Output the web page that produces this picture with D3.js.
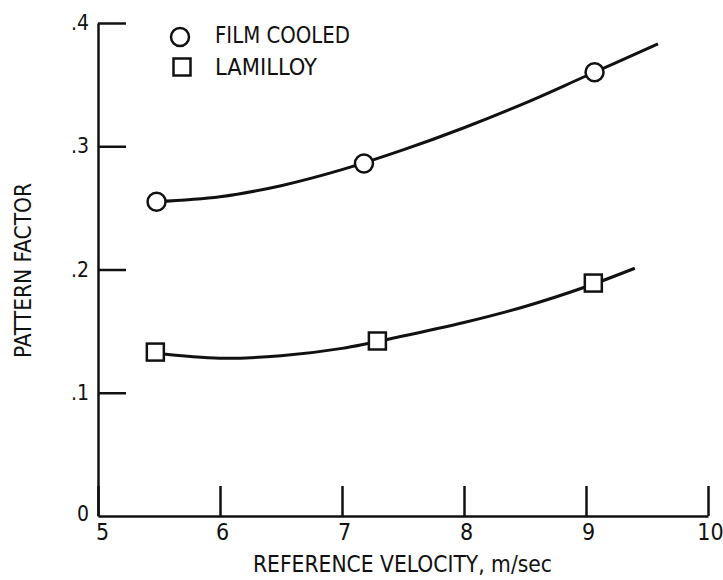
<!DOCTYPE html>
<html>
<head>
<meta charset="utf-8">
<script src="https://cdn.jsdelivr.net/npm/d3@7"></script>
<style>
  html, body { margin: 0; padding: 0; background: #fff; }
  svg { display: block; }
  text { font-family: "DejaVu Sans Condensed", "DejaVu Sans", sans-serif; fill: #111; }
</style>
</head>
<body>
<svg id="chart" width="723" height="580"></svg>
<script>
// ---- data ----
const xTicks = [5, 6, 7, 8, 9, 10];
const yTicks = [0, 0.1, 0.2, 0.3, 0.4];
const yTickLabels = ["0", ".1", ".2", ".3", ".4"];

const filmX = [5.48, 7.18, 9.07];
const filmY = [0.255, 0.286, 0.360];
const lamX = [5.47, 7.29, 9.06];
const lamY = [0.133, 0.142, 0.189];

// faired curves
const filmCurveX = [5.48, 6.0, 6.5, 7.0, 7.5, 8.0, 8.5, 9.0, 9.59];
const filmCurveY = [0.255, 0.259, 0.268, 0.281, 0.297, 0.315, 0.335, 0.357, 0.383];
const lamCurveX = [5.47, 6.0, 6.5, 7.0, 7.5, 8.0, 8.5, 9.0, 9.40];
const lamCurveY = [0.132, 0.128, 0.130, 0.136, 0.146, 0.157, 0.170, 0.186, 0.201];

const legendLabels = ["FILM COOLED", "LAMILLOY"];
const xTitle = "REFERENCE VELOCITY, m/sec";
const yTitle = "PATTERN FACTOR";

// ---- drawing ----
const svg = d3.select("#chart");
const ink = "#111";

const x = d3.scaleLinear().domain([5, 10]).range([98, 708]);
const y = d3.scaleLinear().domain([0, 0.4]).range([516, 23]);

// x axis
const xAxis = d3.axisBottom(x).tickValues(xTicks).tickSizeInner(-30).tickSizeOuter(0).tickPadding(8)
  .tickFormat(d3.format("d"));
const gx = svg.append("g").attr("transform", `translate(0,${y(0)})`).call(xAxis);
gx.select(".domain").attr("stroke", ink).attr("stroke-width", 2.5);
gx.selectAll(".tick line").attr("stroke", ink).attr("stroke-width", 2.5);
gx.selectAll(".tick text").attr("font-size", 23).attr("fill", ink)
  .attr("font-family", "DejaVu Sans Condensed, DejaVu Sans, sans-serif")
  .attr("dx", (d) => d === 5 ? 4 : 2);

// y axis
const yAxis = d3.axisLeft(y).tickValues(yTicks).tickSizeInner(-28).tickSizeOuter(0).tickPadding(9)
  .tickFormat((d, i) => yTickLabels[i]);
const gy = svg.append("g").attr("transform", `translate(${x(5)},0)`).call(yAxis);
gy.select(".domain").attr("stroke", ink).attr("stroke-width", 2.5);
gy.selectAll(".tick line").attr("stroke", ink).attr("stroke-width", 2.5)
  .attr("display", (d) => d === 0 ? "none" : null);
gy.selectAll(".tick text").attr("font-size", 21).attr("fill", ink)
  .attr("font-family", "DejaVu Sans Condensed, DejaVu Sans, sans-serif")
  .attr("dy", (d) => d === 0 ? "0.2em" : "0.32em");

// curves
const line = d3.line().x(d => x(d[0])).y(d => y(d[1])).curve(d3.curveCatmullRom.alpha(0.5));
const filmCurve = filmCurveX.map((v, i) => [v, filmCurveY[i]]);
const lamCurve = lamCurveX.map((v, i) => [v, lamCurveY[i]]);
svg.append("path").datum(filmCurve).attr("d", line)
  .attr("fill", "none").attr("stroke", ink).attr("stroke-width", 3);
svg.append("path").datum(lamCurve).attr("d", line)
  .attr("fill", "none").attr("stroke", ink).attr("stroke-width", 3);

// markers
const r = 9, s = 17;
svg.selectAll("circle.film").data(filmX.map((v, i) => [v, filmY[i]])).enter()
  .append("circle").attr("class", "film")
  .attr("cx", d => x(d[0])).attr("cy", d => y(d[1])).attr("r", r)
  .attr("fill", "#fff").attr("stroke", ink).attr("stroke-width", 2.5);
svg.selectAll("rect.lam").data(lamX.map((v, i) => [v, lamY[i]])).enter()
  .append("rect").attr("class", "lam")
  .attr("x", d => x(d[0]) - s / 2).attr("y", d => y(d[1]) - s / 2)
  .attr("width", s).attr("height", s)
  .attr("fill", "#fff").attr("stroke", ink).attr("stroke-width", 2.5);

// legend
const leg = svg.append("g");
leg.append("circle").attr("cx", 180).attr("cy", 37).attr("r", r)
  .attr("fill", "#fff").attr("stroke", ink).attr("stroke-width", 2.5);
leg.append("rect").attr("x", 182 - s / 2).attr("y", 67 - s / 2).attr("width", s).attr("height", s)
  .attr("fill", "#fff").attr("stroke", ink).attr("stroke-width", 2.5);
leg.append("text").attr("x", 215).attr("y", 43).attr("font-size", 23)
  .attr("textLength", 135).attr("lengthAdjust", "spacingAndGlyphs").text(legendLabels[0]);
leg.append("text").attr("x", 215).attr("y", 75).attr("font-size", 23)
  .attr("textLength", 102).attr("lengthAdjust", "spacingAndGlyphs").text(legendLabels[1]);

// axis titles
svg.append("text").attr("x", 253).attr("y", 572).attr("font-size", 23)
  .attr("textLength", 299).attr("lengthAdjust", "spacingAndGlyphs").text(xTitle);
svg.append("text").attr("transform", "translate(31,358) rotate(-90)").attr("font-size", 23)
  .attr("textLength", 175).attr("lengthAdjust", "spacingAndGlyphs").text(yTitle);
</script>
</body>
</html>
